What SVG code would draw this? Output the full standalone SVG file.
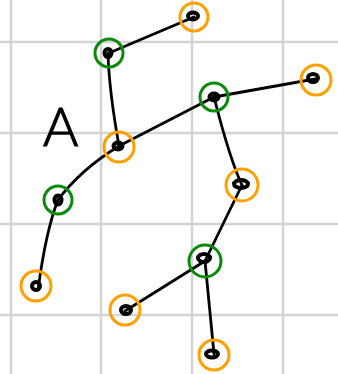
<svg xmlns="http://www.w3.org/2000/svg" width="338" height="374" viewBox="0 0 338 374">
<style>
.grid line{stroke:#d4d4d4;stroke-width:2.5}
.edge{fill:none;stroke:#000;stroke-width:2.8;stroke-linecap:round}
.ro{fill:none;stroke:#ffa000;stroke-width:3}
.rg{fill:none;stroke:#0a8a0a;stroke-width:3}
.dot{fill:none;stroke:#000;stroke-width:4}
.lbl{font-family:Lato,"Liberation Sans",sans-serif;font-weight:300;font-size:54px;fill:#000;stroke:#000;stroke-width:1.2}
</style>
<rect width="338" height="374" fill="#fff"/>
<g class="grid">
<line x1="11" y1="0" x2="11" y2="374"/>
<line x1="101" y1="0" x2="101" y2="374"/>
<line x1="192" y1="0" x2="192" y2="374"/>
<line x1="283" y1="0" x2="283" y2="374"/>
<line x1="0" y1="42" x2="338" y2="42"/>
<line x1="0" y1="133" x2="338" y2="133"/>
<line x1="0" y1="224" x2="338" y2="224"/>
<line x1="0" y1="315" x2="338" y2="315"/>
</g>
<text class="lbl" x="43" y="146">A</text>
<g id="connectors">
<path class="edge" d="M109,53 L194,17"/>
<path class="edge" d="M108,53 Q109,90 119,146"/>
<path class="edge" d="M119,146 L214,97"/>
<path class="edge" d="M119,146 Q80,170 58,200"/>
<path class="edge" d="M214,97 L315,79"/>
<path class="edge" d="M214,97 Q230,160 242,185"/>
<path class="edge" d="M242,185 L205,261"/>
<path class="edge" d="M58,200 Q46,230 38,290"/>
<path class="edge" d="M205,261 L125,311"/>
<path class="edge" d="M205,261 L214,354"/>
</g>
<g id="n1"><circle class="rg" cx="109" cy="53" r="14"/><ellipse class="dot" cx="108" cy="53" rx="3.5" ry="4"/></g>
<g id="n2"><circle class="ro" cx="194" cy="17" r="14"/><ellipse class="dot" cx="193" cy="16" rx="5" ry="3.5"/></g>
<g id="n3"><circle class="ro" cx="119" cy="147" r="15"/><ellipse class="dot" cx="118" cy="146" rx="4.5" ry="3.5"/></g>
<g id="n4"><circle class="rg" cx="214" cy="97" r="14"/><ellipse class="dot" cx="214" cy="97" rx="4.5" ry="3.5"/></g>
<g id="n5"><circle class="ro" cx="316" cy="80" r="15"/><ellipse class="dot" cx="313" cy="78" rx="5" ry="4"/></g>
<g id="n6"><circle class="ro" cx="242" cy="185" r="16"/><ellipse class="dot" cx="241" cy="184" rx="7" ry="4"/></g>
<g id="n7"><circle class="rg" cx="58" cy="200" r="14"/><ellipse class="dot" cx="58" cy="200" rx="3.5" ry="4.5"/></g>
<g id="n8"><circle class="ro" cx="36" cy="286" r="15"/><ellipse class="dot" cx="36" cy="286" rx="4" ry="4"/></g>
<g id="n9"><circle class="rg" cx="205" cy="261" r="16"/><ellipse class="dot" cx="204" cy="258" rx="6" ry="4"/></g>
<g id="n10"><circle class="ro" cx="125" cy="310" r="15"/><ellipse class="dot" cx="126" cy="310" rx="5" ry="4"/></g>
<g id="n11"><circle class="ro" cx="214" cy="355" r="15"/><ellipse class="dot" cx="212" cy="354" rx="6" ry="3.5"/></g>
</svg>
